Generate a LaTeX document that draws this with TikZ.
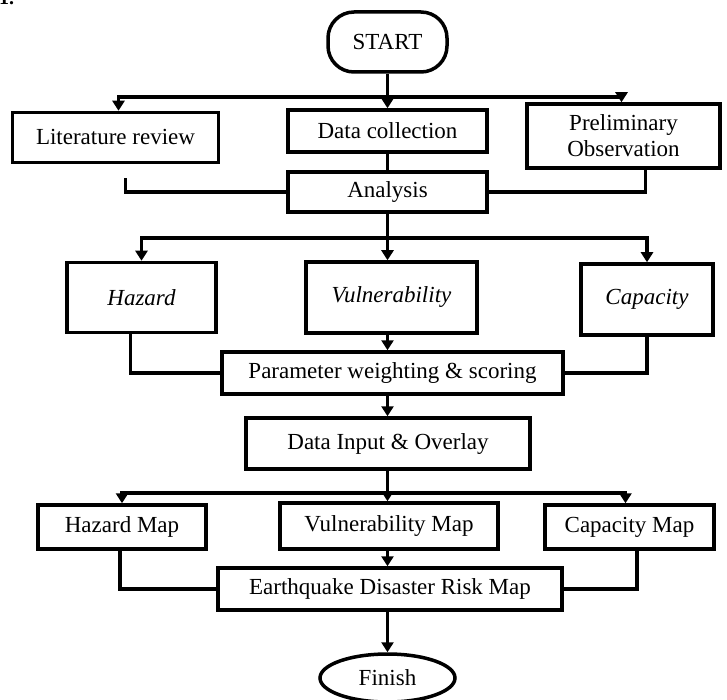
\documentclass[tikz,border=0pt]{standalone}
\usepackage{fontspec}
\setmainfont{Liberation Serif}
\usetikzlibrary{arrows.meta,shapes.geometric}
\begin{document}
\begin{tikzpicture}[x=1pt,y=-1pt,
 box/.style={draw, line width=3.5pt, inner sep=0pt, align=center, font=\fontsize{23}{26}\selectfont},
 itbox/.style={box, font=\itshape\fontsize{23}{26}\selectfont},
 ln/.style={line width=3.5pt},
 arr/.style={ln, -{Triangle[length=10pt,width=12pt]}},
]
\useasboundingbox (0,0) rectangle (727,700);
\node[anchor=base west, inner sep=0pt, font=\bfseries\fontsize{20}{23}\selectfont] (fig) at (-1,4.5) {1.};
\node[box, rounded corners=26pt, minimum width=119pt, minimum height=60pt] (start) at (387.5,42) {START};
\node[box, minimum width=206pt, minimum height=50pt] (lit) at (115.5,137.5) {Literature review};
\node[box, minimum width=199pt, minimum height=42pt] (data) at (387.5,131) {Data collection};
\node[box, minimum width=193pt, minimum height=64pt] (prelim) at (623.5,136) {Preliminary\\Observation};
\node[box, minimum width=199pt, minimum height=40pt] (analysis) at (387.5,192) {Analysis};
\node[itbox, minimum width=149pt, minimum height=70pt] (hazard) at (141.5,297.5) {Hazard};
\node[itbox, minimum width=171pt, minimum height=71pt] (vuln) at (391.5,297.5) {Vulnerability};
\node[itbox, minimum width=132pt, minimum height=71pt] (capacity) at (647,299.5) {Capacity};
\node[box, minimum width=341pt, minimum height=42pt] (pws) at (392.5,373) {Parameter weighting \& scoring};
\node[box, minimum width=284pt, minimum height=51pt] (dio) at (388,443.5) {Data Input \& Overlay};
\node[box, minimum width=168pt, minimum height=44pt] (hmap) at (122,527) {Hazard Map};
\node[box, minimum width=218pt, minimum height=46pt] (vmap) at (389,526) {Vulnerability Map};
\node[box, minimum width=169pt, minimum height=44pt] (cmap) at (629.5,527) {Capacity Map};
\node[box, minimum width=344pt, minimum height=42pt] (edrm) at (390,589) {Earthquake Disaster Risk Map};
\node[box, ellipse, inner sep=0pt, minimum width=135pt, minimum height=48pt] (finish) at (387.5,678) {Finish};
\coordinate (b1) at (387.5,97);
\coordinate (b2) at (387.5,238);
\coordinate (b3) at (387.5,493);
% level 1
\draw[ln] (start) -- (b1);
\draw[arr] (b1) -| ([xshift=3pt]lit.north);
\draw[arr] (b1) -- (b1 |- data.north);
\draw[arr] (b1) -| ([xshift=-2pt]prelim.north);
\draw[ln] (data) -- (analysis);
\draw[ln] ([xshift=10pt,yshift=-14pt]lit.south) |- (analysis.west);
\draw[ln] ([xshift=22pt]prelim.south) |- (analysis.east);
% level 2
\draw[ln] (analysis) -- (b2);
\draw[arr] (b2) -| (hazard.north);
\draw[arr] (b2) -- (b2 |- vuln.north);
\draw[arr] (b2) -| (capacity.north);
\draw[ln] ([xshift=-11pt]hazard.south) |- (pws.west);
\draw[ln] (capacity.south) |- (pws.east);
\draw[arr] (b2 |- vuln.south) -- (b2 |- pws.north);
\draw[arr] (b2 |- pws.south) -- (b2 |- dio.north);
% level 3
\draw[ln] (b2 |- dio.south) -- (b3);
\draw[arr] (b3) -| (hmap.north);
\draw[arr] (b3) -- (b3 |- vmap.north);
\draw[arr] (b3) -| ([xshift=-4pt]cmap.north);
\draw[ln] ([xshift=-2pt]hmap.south) |- (edrm.west);
\draw[ln] ([xshift=7.5pt]cmap.south) |- (edrm.east);
\draw[arr] (b3 |- vmap.south) -- (b3 |- edrm.north);
\draw[arr] (b3 |- edrm.south) -- (finish);
\end{tikzpicture}
\end{document}
